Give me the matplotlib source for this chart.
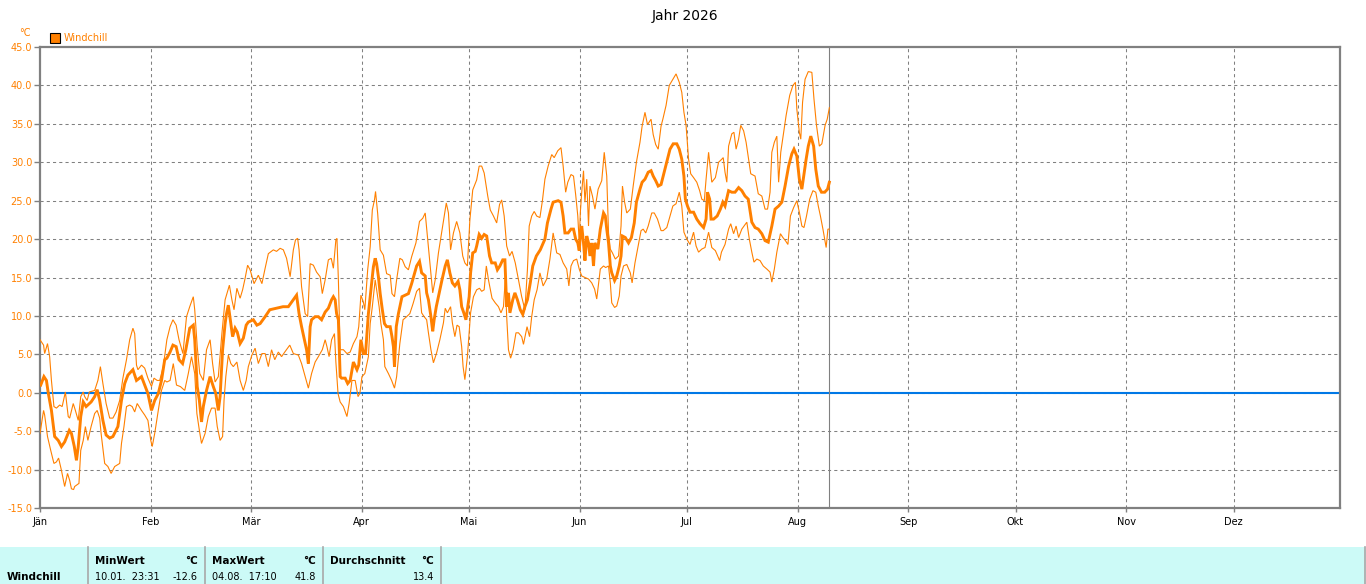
import matplotlib
matplotlib.use("Agg")
import matplotlib.pyplot as plt
from matplotlib.patches import Rectangle
from matplotlib.lines import Line2D

plt.rcParams['font.family'] = ['DejaVu Sans']

# ---------------- data ----------------
title = "Jahr 2026"
series_name = "Windchill"
unit = "°C"
month_labels = ['Jän', 'Feb', 'Mär', 'Apr', 'Mai', 'Jun', 'Jul', 'Aug', 'Sep', 'Okt', 'Nov', 'Dez']
month_start_days = [0, 31, 59, 90, 120, 151, 181, 212, 243, 273, 304, 334]
axis_end_day = 363.8
last_day = 220.9
y_ticks = [-15, -10, -5, 0, 5, 10, 15, 20, 25, 30, 35, 40, 45]

# mean windchill (day of year, value)
mean_pts = [
 (0.2,1.0),(1.1,2.1),(1.8,1.6),(2.3,0),(3.2,-2.3),(4.1,-5.7),(5.1,-6.2),(6.0,-7.0),(6.9,-6.4),(8.2,-4.9),
 (8.8,-5.3),(9.6,-7.0),(10.2,-8.8),(10.7,-7.0),(11.4,-3.1),(12.1,-1.2),
 (12.9,-1.8),(14.3,-1.2),(15.3,-0.5),(16.0,0.4),(16.7,-1.0),(17.6,-3.6),(18.5,-5.5),(19.5,-5.9),(20.4,-5.7),
 (21.8,-4.4),(22.8,-1.0),(23.7,1.2),(24.6,2.3),(26.0,3.0),(27.0,1.6),(28.4,2.1),(29.3,1.0),(30.2,-0.1),
 (31.2,-2.3),(32.1,-1.0),(33.1,-0.1),(34.0,1.6),(34.9,4.3),(35.5,4.5),(36.4,5.3),(37.2,6.2),(38.1,6.0),
 (38.9,4.3),(39.9,3.8),(40.8,5.6),(41.9,8.4),(42.9,8.8),(43.3,6.9),(44.0,0.8),(44.6,-1.0),(45.2,-3.8),
 (45.7,-1.8),(46.6,0.3),(47.6,2.1),(48.5,0.8),(49.2,-0.1),(49.9,-2.3),(50.4,-0.5),(51.1,5.6),(51.8,9.0),
 (52.2,10.3),(52.7,11.4),(53.4,9.0),(53.9,7.3),(54.6,8.4),(55.2,7.9),(56.0,6.4),(56.9,7.1),(57.7,8.8),
 (58.3,9.2),(59.7,9.5),(60.7,8.8),(61.6,9.0),(63.0,9.9),
 (64.3,10.8),(66.2,11.0),(68.0,11.2),(69.5,11.2),(70.9,12.1),(71.8,12.7),(72.5,10.3),(73.2,8.6),(74.0,6.9),
 (74.6,5.6),(75.1,3.8),(75.6,8.6),(76.0,9.5),(77.0,9.9),(77.9,9.9),(78.8,9.5),(79.8,10.5),(80.7,11.0),
 (81.6,12.1),(82.1,12.5),(82.6,12.1),(83.0,10.3),(83.5,9.5),(84.0,2.1),(84.4,1.9),(85.4,1.9),(86.1,1.2),
 (86.8,1.6),(87.7,4.0),(88.7,3.0),
 (89.2,3.6),(89.8,6.9),(90.5,5.1),(91.1,5.1),(91.9,10.3),(92.6,13.4),(93.3,16.4),(93.8,17.5),(94.2,16.8),
 (94.7,15.1),(95.2,12.9),(95.8,10.8),(96.4,9.0),(97.0,8.6),(98.0,8.6),(98.5,7.3),(98.9,6.0),(99.2,3.4),
 (99.7,8.6),(100.3,10.3),(101.3,12.5),(102.2,12.7),(103.1,12.9),(104.0,14.2),(105.4,16.5),(106.2,17.1),
 (106.8,15.6),(107.8,15.2),(108.2,13.0),(108.7,12.1),(109.4,9.9),(109.9,8.0),(110.3,9.5),(110.9,11.2),
 (111.5,12.5),(112.5,14.7),(113.4,16.5),(114.0,17.3),
 (114.7,15.6),(115.4,14.3),(116.1,13.9),(117.0,14.5),(117.5,13.4),(118.0,11.2),(118.6,10.4),(119.2,9.5),
 (119.6,10.8),(120.1,12.5),(120.5,15.6),(121.1,18.2),(121.8,18.4),(122.2,19.1),(122.9,20.6),(123.6,20.1),
 (124.3,20.6),(125.0,20.4),(125.8,17.8),(126.4,16.9),(127.4,16.9),(128.0,16.0),(128.7,16.5),(129.5,17.3),
 (130.1,17.3),(130.6,11.2),(131.1,13.0),(131.5,10.4),(132.3,12.1),(132.9,13.0),(133.6,12.1),(134.4,10.8),
 (135.1,10.2),(135.7,11.2),(136.4,12.1),(137.2,14.3),(137.9,16.5),(138.9,17.8),(140.0,18.6),
 (141.3,20.0),(142.0,22.1),(143.0,23.9),(143.6,24.8),(145.0,25.0),(145.8,24.8),(146.4,23.0),(146.9,20.8),
 (147.8,20.8),(148.6,21.3),(149.3,21.3),(149.9,20.0),(150.5,19.5),(150.9,18.5),(151.2,20.4),(151.6,21.7),
 (152.1,19.5),(152.5,17.2),(153.0,20.4),(153.5,19.5),(153.9,17.8),(154.4,19.5),(154.9,16.5),(155.3,19.5),
 (156.1,18.7),(156.8,21.3),(157.7,23.4),(158.2,23.0),(158.6,21.3),(159.1,19.5),(159.6,16.5),(160.0,15.6),
 (160.8,14.6),(161.4,15.2),(162.1,16.5),(162.6,17.8),(163.0,20.4),(163.8,20.2),(164.7,19.5),
 (165.5,20.2),(166.3,22.1),(166.9,24.8),(167.9,26.5),(168.5,27.4),(169.3,27.8),(170.2,28.7),(171.0,28.9),
 (171.6,28.2),(172.3,27.6),(173.0,26.9),(173.8,27.1),(174.4,28.2),(175.4,30.0),(176.3,31.7),(177.2,32.4),
 (178.2,32.4),(178.9,31.7),(179.6,30.4),(180.2,28.2),(180.6,25.2),(181.2,24.3),(181.9,23.5),(182.9,23.5),
 (183.8,22.6),(184.7,22.0),(185.7,21.5),(186.4,22.6),(186.8,26.1),(187.4,25.2),(187.8,22.6),(188.5,22.6),
 (189.5,23.0),(190.4,23.9),
 (191.1,24.8),(191.7,24.3),(192.7,26.3),(193.6,26.1),(194.5,26.1),(195.5,26.7),(196.4,26.3),(197.3,25.6),
 (198.2,25.2),(199.2,22.2),(200.1,21.5),(201.0,21.3),(202.0,20.7),(202.9,19.8),(203.8,19.6),(204.8,21.7),
 (205.7,23.9),(206.7,24.3),(207.6,24.8),(208.5,26.9),(209.5,29.5),(210.4,31.1),(211.0,31.7),(211.8,30.8),
 (212.5,27.8),(213.2,26.5),(213.6,27.8),(214.4,30.4),(215.0,32.1),(215.7,33.4),(216.5,32.1),
 (217.1,29.1),(217.8,26.9),(218.7,26.1),(219.6,26.1),(220.4,26.5),(220.9,27.4),
]

# maximum windchill
max_pts = [
 (0,6.9),(1.0,6.2),(1.3,5.1),(2.1,6.4),(2.7,4.7),(3.2,1.6),(3.9,-1.8),(4.6,-2.0),(5.5,-1.6),(6.2,-1.8),
 (7.1,0.1),(7.9,-3.1),(8.3,-3.3),(9.3,-1.4),(9.9,-2.3),(10.7,-3.6),(11.4,-0.5),(12.1,0.1),(12.5,-0.5),
 (13.2,-1.0),(13.8,0.1),(15.3,0.3),(16.2,1.6),(16.9,3.4),(17.6,1.2),(18.5,-1.4),(19.5,-3.3),(20.4,-3.3),
 (21.3,-2.5),(22.3,-1.0),(23.2,1.9),(24.2,4.3),(25.1,6.9),(26.0,8.4),(26.5,7.7),(27.0,3.6),(27.4,3.0),
 (28.4,3.6),(29.3,3.2),(30.2,1.9),(31.2,0.8),(31.9,1.9),(32.8,1.6),(33.5,1.6),(34.5,3.4),(35.5,6.9),
 (36.4,8.6),(37.2,9.5),(38.1,8.8),
 (38.9,6.9),(40.0,5.1),(41.0,9.9),(41.9,11.2),(42.9,12.5),(43.3,10.8),(44.0,6.0),(44.7,2.5),(45.7,1.6),
 (46.6,5.6),(47.6,6.9),(48.3,3.8),(49.0,1.4),(49.9,2.1),(50.9,7.7),(51.8,12.1),(53.0,14.0),(53.7,12.1),
 (54.3,10.8),(55.1,13.6),(56.0,12.3),(56.7,13.4),(57.4,14.9),(58.1,16.6),(58.8,16.0),(59.9,14.2),
 (61.1,15.3),(62.1,14.2),(63.0,16.2),
 (63.9,18.1),(65.3,18.6),(66.2,18.4),(67.2,18.8),(68.1,18.6),(69.0,17.5),(70.0,15.1),(70.9,18.6),(71.5,19.9),
 (72.1,20.1),(72.5,18.6),(73.2,13.8),(74.2,10.3),(74.9,9.9),(75.6,16.8),(76.5,16.6),(77.4,15.7),(78.4,15.1),
 (79.0,12.9),(79.8,14.7),(80.7,17.3),(81.5,17.5),(82.1,16.2),(82.8,19.9),(83.1,20.1),(83.5,14.7),(84.0,5.6),
 (84.9,5.6),(85.9,5.1),(86.8,5.3),(87.7,6.4),(88.7,7.3),
 (89.2,8.6),(89.8,12.7),(90.5,11.8),(90.9,10.8),(91.7,16.0),(92.4,19.0),(93.0,23.8),(93.6,25.1),(93.9,26.2),
 (94.5,23.3),(95.2,18.6),(96.1,17.9),(97.0,15.5),(98.0,15.3),(98.5,12.9),(99.2,12.5),(99.8,14.7),(100.7,17.5),
 (101.4,17.3),(102.2,16.4),(103.1,16.0),(104.0,17.7),(105.2,19.5),(106.2,22.3),(107.1,22.7),(107.8,23.4),
 (108.4,20.4),(109.2,16.5),(109.9,13.0),(110.6,14.7),(111.5,18.2),(112.7,21.7),(113.7,24.7),(114.3,23.4),
 (114.9,18.6),(115.7,20.8),(116.6,22.3),(117.5,20.8),(118.3,17.8),(118.9,16.9),(119.6,16.5),(120.3,22.5),
 (121.1,26.4),(122.2,27.7),(122.9,29.5),(123.6,29.5),(124.3,28.6),(125.3,25.6),(126.0,23.8),(126.9,23.0),
 (127.8,22.1),(128.6,24.5),(129.2,25.1),(129.9,23.0),(130.6,19.1),(131.4,17.8),(132.1,18.4),(133.0,16.9),
 (133.9,14.7),(134.8,12.5),(135.7,10.8),(136.4,16.0),(136.9,21.7),(137.6,23.0),(138.3,23.6),(139.0,23.0),
 (139.9,22.8),(140.6,25.0),(141.3,27.8),(142.2,29.5),(143.2,31.0),(143.9,30.6),(144.9,31.5),(145.8,31.9),
 (146.4,29.5),(147.1,26.1),(147.7,27.4),(148.6,28.4),(149.3,28.2),(149.9,25.8),(150.5,23.0),(150.9,19.5),
 (151.2,23.4),(151.6,26.1),(152.1,28.9),(152.5,24.8),(153.0,27.8),(153.5,21.7),(153.9,26.9),(154.6,25.6),
 (155.3,23.9),(156.2,26.5),(157.2,27.6),(157.9,31.3),(158.6,28.2),(159.1,20.8),(159.6,18.7),(160.2,18.2),
 (161.0,17.4),(161.9,17.8),(162.6,21.7),(163.0,26.9),(163.6,24.8),(164.2,23.4),(165.2,23.9),
 (166.0,26.9),(166.9,30.0),(167.9,32.6),(168.5,34.7),(169.3,36.5),(170.0,34.9),(171.0,35.6),(171.6,33.6),
 (172.3,32.3),(173.0,31.7),(173.8,34.7),(174.3,35.6),(175.2,37.4),(176.1,40.0),(177.1,40.8),(178.0,41.5),
 (178.9,40.4),(179.6,39.1),(180.2,36.5),(180.8,34.8),(181.5,30.4),(182.1,28.5),(182.9,28.0),(183.8,27.4),
 (184.6,26.3),(185.2,25.2),(185.9,25.0),(186.4,27.8),(187.1,31.3),(187.6,29.1),(188.0,27.4),(189.0,28.0),
 (189.9,30.0),(190.8,30.4),
 (191.2,30.6),(191.7,28.7),(192.2,27.4),(192.7,32.1),(193.6,33.7),(194.2,33.9),(194.8,31.7),(195.5,33.0),
 (196.1,34.8),(196.9,34.1),(197.6,32.6),(198.3,30.4),(198.9,28.5),(200.1,28.2),(201.0,25.9),(202.0,25.6),
 (202.9,23.9),(203.6,23.9),(204.3,26.1),(204.8,31.3),(205.5,32.6),(206.2,33.4),(206.7,27.4),(207.3,31.3),
 (208.1,33.9),(208.8,36.1),(209.8,38.7),(210.7,40.0),(211.4,40.4),(211.8,36.9),(212.5,33.9),(212.9,33.0),
 (213.4,37.8),(214.1,40.8),(215.0,41.8),(216.0,41.7),
 (216.6,38.2),(217.3,34.8),(218.1,32.1),(218.8,32.4),(219.7,34.8),(220.3,35.6),(220.9,37.1),
]

# minimum windchill
min_pts = [
 (0,-5.3),(1.0,-2.3),(1.3,-2.9),(2.1,-5.7),(3.0,-7.5),(3.9,-9.2),(4.6,-9.0),(5.2,-8.5),(6.0,-10.1),
 (6.9,-12.2),(7.7,-10.5),(8.3,-11.4),(8.8,-12.5),(9.4,-12.6),(9.7,-12.2),(10.9,-11.8),(11.4,-7.5),
 (12.1,-6.2),(12.7,-4.4),
 (13.4,-6.2),(14.3,-4.4),(15.3,-2.7),(16.0,-2.3),(16.7,-3.3),(17.1,-5.3),(18.1,-9.2),(19.0,-9.6),
 (19.9,-10.5),(20.9,-9.6),(22.3,-9.2),(22.8,-6.6),(23.5,-4.4),(24.2,-1.8),(25.1,-1.6),(25.8,-1.8),
 (26.5,-2.5),(27.2,-1.4),(28.4,-2.3),(29.3,-2.9),(30.2,-3.6),(31.0,-6.2),(31.4,-7.0),(32.1,-5.3),
 (33.1,-2.3),(34.0,0.3),(34.9,1.6),(35.5,1.4),(36.4,1.6),(37.3,3.8),
 (38.2,1.0),(39.3,0.8),(40.5,0.3),(41.5,2.5),(42.4,4.7),(43.3,2.5),(43.9,-2.7),(44.6,-4.9),(45.2,-6.6),
 (46.2,-5.3),(47.1,-3.1),(48.0,-2.0),(49.0,-2.0),(49.6,-4.4),(50.4,-6.2),(51.1,-5.7),(51.5,-1.0),(52.0,2.1),
 (52.7,4.9),(53.4,3.8),(54.1,3.4),(55.1,4.0),(56.0,1.6),(56.9,0.3),(57.7,1.6),(58.3,3.4),(59.3,4.9),
 (60.2,5.8),(61.1,3.8),(62.1,5.1),(63.0,5.1),
 (63.9,3.4),(64.8,5.6),(65.7,4.3),(66.7,5.3),(67.6,4.7),(68.5,5.3),(69.9,6.2),(70.9,5.1),(72.3,4.9),
 (73.2,3.8),(74.2,2.1),(75.1,0.6),(76.0,2.5),(77.0,4.0),(77.9,4.7),(79.0,5.6),(79.8,6.9),(80.3,6.0),
 (80.9,4.7),(81.6,6.9),(82.4,7.7),(82.8,4.0),(83.4,-0.1),(84.0,-1.2),(84.9,-1.8),(85.9,-3.1),(86.5,-1.4),
 (87.3,1.6),(88.2,1.6),(89.0,-0.5),
 (89.5,-0.1),(90.1,2.1),(90.9,2.5),(91.9,4.7),(92.4,9.0),(93.0,11.2),(93.8,14.7),(94.2,13.4),(94.9,11.2),
 (95.4,9.0),(96.1,6.9),(96.5,3.4),(97.5,2.5),(98.4,1.6),(99.2,0.6),(99.8,2.1),(100.7,6.4),(101.6,9.5),
 (102.6,9.9),(103.5,10.3),(104.4,11.6),(105.4,13.2),(106.2,13.6),(106.8,10.4),(107.5,9.9),(108.2,9.5),
 (108.7,7.8),(109.4,5.6),(110.1,3.9),(111.0,5.2),(111.9,6.9),(112.9,9.1),(113.4,11.0),(114.0,10.4),
 (114.9,11.2),(115.4,9.1),(116.1,7.3),(116.7,8.8),(117.3,8.6),(118.0,6.0),(118.4,3.4),(118.9,1.7),
 (119.6,4.7),(120.1,7.8),(120.5,10.4),(121.3,12.5),(122.2,13.4),(123.0,13.6),(123.6,13.2),(124.3,13.4),
 (124.9,16.5),(125.5,14.7),(126.5,12.3),(127.4,11.7),(128.3,11.2),(129.0,10.4),(129.7,11.2),(130.2,14.7),
 (130.6,9.9),(131.1,5.6),(131.7,4.5),(132.4,5.6),(133.2,7.8),(133.9,7.8),(134.8,7.3),(135.3,6.3),
 (136.3,8.6),(137.0,7.3),(137.6,9.9),(138.3,12.1),(139.1,13.4),
 (139.9,15.6),(140.8,13.9),(141.8,14.8),(142.7,17.4),(143.6,20.8),(144.6,18.2),(145.5,18.0),(146.4,16.9),
 (147.4,16.1),(148.0,13.9),(148.6,16.5),(149.3,17.2),(150.2,17.4),(150.9,16.1),(151.6,15.2),(152.5,15.0),
 (153.5,14.8),(154.4,14.3),(155.2,13.5),(155.8,12.2),(156.8,16.1),(157.7,16.5),(158.3,16.3),(159.1,16.5),
 (159.6,14.3),(160.0,11.7),(160.8,11.1),(161.4,11.3),(162.1,12.6),(162.6,15.2),(163.3,16.5),(164.2,16.7),
 (165.2,15.6),
 (165.7,14.3),(166.5,16.9),(167.4,19.1),(168.2,21.1),(168.8,21.3),(169.5,20.8),(170.2,21.7),(171.2,23.4),
 (171.9,23.4),(172.8,22.6),(173.8,21.1),(174.4,21.1),(175.4,21.5),(176.3,23.0),(177.1,24.3),(178.0,24.6),
 (178.9,26.1),(179.6,24.3),(180.2,20.9),(181.0,20.0),(181.9,19.3),(182.9,20.9),(183.6,19.1),(184.3,18.3),
 (185.2,18.7),(186.1,18.9),(187.1,20.9),(188.0,18.9),(189.0,18.5),(190.2,17.2),
 (190.7,18.3),(191.7,19.3),(192.7,21.3),(193.3,22.0),(194.1,20.7),(194.8,21.7),(195.5,20.2),(196.4,21.3),
 (197.8,22.2),(198.5,20.0),(199.2,18.3),(199.8,17.0),(200.6,17.4),(201.5,17.2),(202.4,16.5),(203.4,16.1),
 (204.3,15.7),(204.8,14.4),(205.5,16.1),(206.2,18.3),(207.2,20.7),(207.9,20.2),(208.6,19.8),(209.3,19.3),
 (210.0,23.0),(210.9,24.1),(211.8,25.0),(212.5,23.5),(213.2,21.7),(213.8,21.5),(214.5,23.0),(215.4,25.2),
 (216.3,26.3),
 (217.1,26.1),(217.8,24.3),(218.4,23.0),(219.1,21.3),(219.6,20.0),(220.0,18.9),(220.5,21.3),(220.9,21.3),
]

# statistics table
stat_headers = ["MinWert", "MaxWert", "Durchschnitt"]
stat_times = ["10.01.  23:31", "04.08.  17:10", ""]
stat_values = ["-12.6", "41.8", "13.4"]

# ---------------- styling ----------------
ORANGE = "#FF8000"
GRAY = "#808080"
BLUE = "#0078E6"
CYAN = "#CCFAF7"
W, H = 1366, 584

fig = plt.figure(figsize=(W / 100, H / 100), dpi=100)
fig.patch.set_facecolor("white")

def fx(px):
    return px / W

def fy(py):
    return 1 - py / H

ax = fig.add_axes([fx(40), fy(508), fx(1340) - fx(40), fy(47) - fy(508)])
ax.set_xlim(0, axis_end_day)
ax.set_ylim(-15, 45)

for s in ax.spines.values():
    s.set_color(GRAY)
    s.set_linewidth(1.6)

ax.set_yticks(y_ticks)
ax.set_yticklabels([f"{v:.1f}" for v in y_ticks], color=ORANGE, fontsize=7)
ax.tick_params(axis='y', length=4, width=1, color=GRAY, pad=1.5)
ax.set_xticks(month_start_days)
ax.set_xticklabels(month_labels, fontsize=7, color="black")
ax.tick_params(axis='x', length=3, width=1, color=GRAY, pad=3.5)

for v in y_ticks[1:-1]:
    ax.axhline(v, color=GRAY, lw=0.75, ls=(0, (3, 3)), zorder=1)
for d in month_start_days[1:]:
    ax.axvline(d, color=GRAY, lw=0.75, ls=(0, (3, 3)), zorder=1)

ax.axhline(0, color=BLUE, lw=1.5, zorder=2)
ax.axvline(last_day, color=GRAY, lw=0.8, zorder=2)

for pts, lw in ((max_pts, 0.8), (min_pts, 0.8), (mean_pts, 2.1)):
    xs = [p[0] for p in pts]
    ys = [p[1] for p in pts]
    ax.plot(xs, ys, color=ORANGE, lw=lw, zorder=3, solid_joinstyle='miter')

# title, unit, legend
fig.text(fx(685), fy(16), title, ha='center', va='center', fontsize=10, color="black")
fig.text(fx(25), fy(33), unit, ha='center', va='center', fontsize=7, color=ORANGE)
fig.patches.append(Rectangle((fx(50), fy(43)), fx(10), fy(33) - fy(43), transform=fig.transFigure,
                             facecolor=ORANGE, edgecolor="black", lw=0.8))
fig.text(fx(64), fy(38), series_name, ha='left', va='center', fontsize=7, color=ORANGE)

# bottom statistics table
fig.patches.append(Rectangle((0, 0), 1, fy(547), transform=fig.transFigure,
                             facecolor=CYAN, edgecolor="none"))
for sx in (88, 205, 323, 441, 1365):
    fig.lines.append(Line2D([fx(sx), fx(sx)], [fy(547), 0], transform=fig.transFigure,
                            color="#A8A8A8", lw=1.2))
fig.text(fx(7), fy(577), series_name, ha='left', va='center', fontsize=7.5, fontweight='bold')
col_left = [95, 212, 330]
col_right = [198, 316, 434]
for i in range(3):
    fig.text(fx(col_left[i]), fy(561), stat_headers[i], ha='left', va='center', fontsize=7.5, fontweight='bold')
    fig.text(fx(col_right[i]), fy(561), unit, ha='right', va='center', fontsize=7.5, fontweight='bold')
    if stat_times[i]:
        fig.text(fx(col_left[i]), fy(577), stat_times[i], ha='left', va='center', fontsize=7)
    fig.text(fx(col_right[i]), fy(577), stat_values[i], ha='right', va='center', fontsize=7)

fig.savefig("out.png", dpi=100)
